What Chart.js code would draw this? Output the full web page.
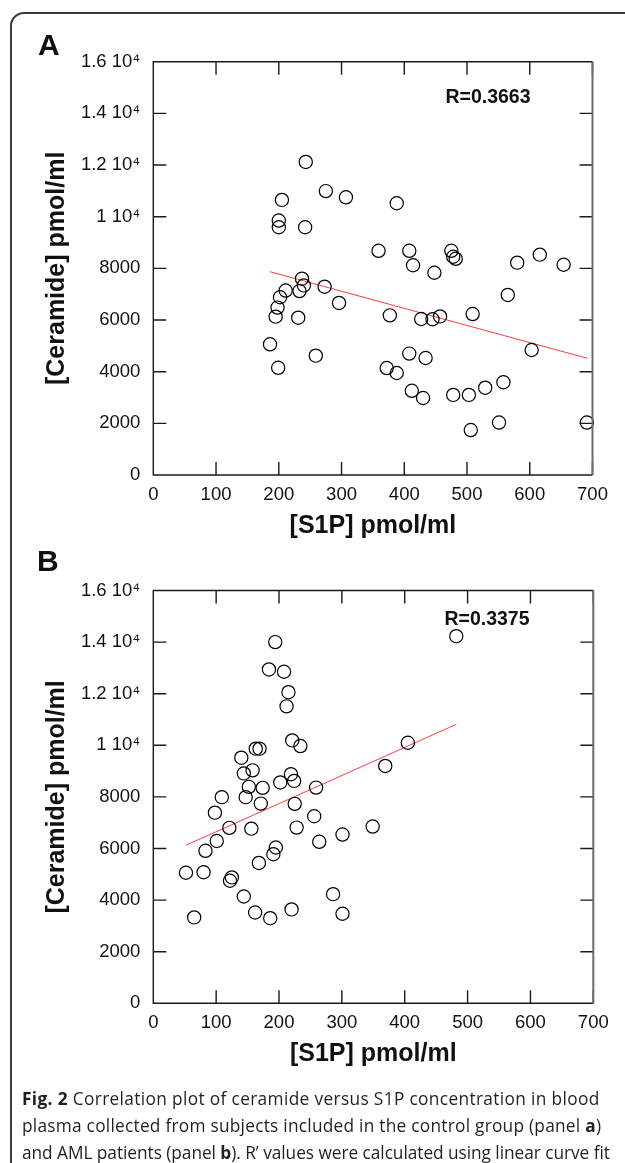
<!DOCTYPE html>
<html>
<head>
<meta charset="utf-8">
<script src="https://cdn.jsdelivr.net/npm/chart.js@4.4.1/dist/chart.umd.min.js"></script>
<style>
  html, body { margin:0; padding:0; background:#fff; }
  body { width:625px; height:1163px; position:relative; overflow:hidden; }
  #frame { position:absolute; left:10px; top:12px; width:700px; height:1200px; border:2px solid #3a3a3a; border-radius:14px; box-sizing:border-box; }
  canvas { position:absolute; left:0; }
  .lbl { position:absolute; font-family:"Liberation Sans", Arial, sans-serif; font-weight:bold; color:#111; white-space:nowrap; }
  .panel { font-size:30px; line-height:30px; }
  .rval { font-size:19.5px; line-height:19.5px; width:200px; text-align:center; }
  .cap { position:absolute; left:22px; font-family:"Open Sans", sans-serif; font-size:17.3px; line-height:27px; color:#231f20; white-space:nowrap; }
  .cap b { font-weight:700; }
</style>
</head>
<body>
<div id="frame"></div>
<canvas id="cA" width="625" height="560" style="top:0px"></canvas>
<canvas id="cB" width="625" height="560" style="top:530px"></canvas>
<div class="lbl panel" style="left:38px; top:30px;">A</div>
<div class="lbl panel" style="left:37px; top:546px;">B</div>
<div class="lbl rval" id="rA" style="left:388px; top:87px;">R=0.3663</div>
<div class="lbl rval" id="rB" style="left:387px; top:609px;">R=0.3375</div>
<div class="cap" style="top:1085px; letter-spacing:0.35px;"><b>Fig. 2</b> Correlation plot of ceramide versus S1P concentration in blood</div>
<div class="cap" style="top:1112px; letter-spacing:0.25px;">plasma collected from subjects included in the control group (panel <b>a</b>)</div>
<div class="cap" style="top:1139px; letter-spacing:-0.05px;">and AML patients (panel <b>b</b>). R’ values were calculated using linear curve fit</div>
<script>
// ---------- DATA ----------
// Panel A (control group): S1P (x) vs Ceramide (y), pmol/ml
const aS1P = [243, 275, 307, 205, 200, 200, 242, 359, 237, 240, 211, 233, 273, 202, 198, 195, 231, 296, 186, 259, 199,
              388, 408, 414, 475, 478, 482, 448, 580, 616, 654, 565, 377, 427, 445, 457, 509, 603, 408, 434, 372, 388,
              412, 430, 478, 503, 529, 558, 506, 551, 691];
const aCer = [12120, 10990, 10750, 10650, 9850, 9590, 9590, 8680, 7600, 7340, 7140, 7120, 7290, 6880, 6480, 6130, 6090, 6660, 5060, 4620, 4150,
              10520, 8680, 8120, 8680, 8450, 8370, 7830, 8220, 8530, 8140, 6970, 6180, 6040, 6030, 6140, 6230, 4840, 4700, 4530, 4140, 3950,
              3260, 2980, 3100, 3100, 3380, 3590, 1740, 2030, 2030];
const aFitX = [186, 692];
const aFitY = [7870, 4517];

// Panel B (AML patients)
const bS1P = [194, 184, 208, 215, 212, 221, 234, 163, 169, 140, 158, 144, 219, 224, 202, 152, 174, 259, 109, 147, 171, 225,
              98, 256, 121, 156, 228, 349, 301, 264, 101, 83, 195, 191, 168, 52, 80, 125, 122, 286, 144, 220, 162, 301,
              186, 65, 482, 405, 369];
const bCer = [14000, 12940, 12850, 12060, 11510, 10190, 9970, 9870, 9870, 9520, 9030, 8910, 8880, 8620, 8560, 8390, 8350, 8360, 7990, 7990, 7740, 7730,
              7390, 7250, 6800, 6770, 6810, 6850, 6540, 6260, 6290, 5910, 6040, 5780, 5440, 5060, 5080, 4880, 4750, 4230, 4140, 3640, 3520, 3470,
              3300, 3330, 14230, 10100, 9200];
const bFitX = [52, 482];
const bFitY = [6127, 10812];

// Axis ticks
const xTickValues = [0, 100, 200, 300, 400, 500, 600, 700];
const xTickLabels = ['0', '100', '200', '300', '400', '500', '600', '700'];
const yTickValues = [0, 2000, 4000, 6000, 8000, 10000, 12000, 14000, 16000];
const yTickLabels = ['0', '2000', '4000', '6000', '8000', '1 10⁴', '1.2 10⁴', '1.4 10⁴', '1.6 10⁴'];
const xTitle = '[S1P] pmol/ml';
const yTitle = '[Ceramide] pmol/ml';

// ---------- CHARTS ----------
const FONT = '"Liberation Sans", Arial, Helvetica, sans-serif';

const boxPlugin = {
  id: 'box',
  afterDraw(chart) {
    const ctx = chart.ctx;
    const {left, right, top, bottom} = chart.chartArea;
    const xs = chart.scales.x, ys = chart.scales.y;
    const TL = 13;
    ctx.save();
    ctx.strokeStyle = '#1a1a1a';
    ctx.lineWidth = 1.4;
    ctx.beginPath();
    ctx.moveTo(right, top); ctx.lineTo(left, top); ctx.lineTo(left, bottom); ctx.lineTo(right, bottom);
    xTickValues.forEach(v => {
      const p = xs.getPixelForValue(v);
      ctx.moveTo(p, bottom); ctx.lineTo(p, bottom - TL);
      ctx.moveTo(p, top); ctx.lineTo(p, top + TL);
    });
    yTickValues.forEach(v => {
      const p = ys.getPixelForValue(v);
      ctx.moveTo(left, p); ctx.lineTo(left + TL, p);
      ctx.moveTo(right, p); ctx.lineTo(right - TL, p);
    });
    ctx.stroke();
    ctx.strokeStyle = '#6a6a6a';
    ctx.lineWidth = 2;
    ctx.beginPath();
    ctx.moveTo(right, top); ctx.lineTo(right, bottom);
    ctx.stroke();
    ctx.restore();
  }
};

function makeChart(id, xsArr, ysArr, fx, fy, pad) {
  const pts = xsArr.map((x, i) => ({x: x, y: ysArr[i]}));
  const fit = fx.map((x, i) => ({x: x, y: fy[i]}));
  return new Chart(document.getElementById(id), {
    type: 'scatter',
    data: {
      datasets: [
        { data: fit, showLine: true, borderColor: '#ff3c3c', borderWidth: 1, pointRadius: 0, order: 2, clip: false },
        { data: pts, pointRadius: 6.6, pointBorderWidth: 1.2, pointBorderColor: '#000', pointBackgroundColor: 'rgba(0,0,0,0)',
          borderColor: '#000', backgroundColor: 'rgba(0,0,0,0)', order: 1, clip: false }
      ]
    },
    options: {
      responsive: false,
      animation: false,
      events: [],
      layout: { padding: pad, autoPadding: false },
      plugins: { legend: { display: false }, tooltip: { enabled: false } },
      scales: {
        x: {
          type: 'linear', position: 'bottom', min: 0, max: 700,
          grid: { display: false, drawTicks: false },
          border: { display: false },
          afterBuildTicks: s => { s.ticks = xTickValues.map(v => ({value: v})); },
          ticks: { padding: 9, color: '#111', font: { family: FONT, size: 18.5 }, maxRotation: 0, autoSkip: false,
                   callback: (v) => xTickLabels[xTickValues.indexOf(v)] },
          title: { display: true, text: xTitle, color: '#111', font: { family: FONT, size: 25, weight: 'bold' }, padding: { top: 4, bottom: 4 } },
          afterFit: s => { s.height = 70; }
        },
        y: {
          type: 'linear', position: 'left', min: 0, max: 16000,
          grid: { display: false, drawTicks: false },
          border: { display: false },
          afterBuildTicks: s => { s.ticks = yTickValues.map(v => ({value: v})); },
          ticks: { padding: 13, color: '#111', font: { family: FONT, size: 18.5 }, autoSkip: false,
                   callback: (v) => yTickLabels[yTickValues.indexOf(v)] },
          title: { display: true, text: yTitle, color: '#111', font: { family: FONT, size: 25, weight: 'bold' }, padding: { top: 4, bottom: 4 } },
          afterFit: s => { s.width = 115.3; }
        }
      }
    },
    plugins: [boxPlugin]
  });
}

makeChart('cA', aS1P, aCer, aFitX, aFitY, { left: 38, right: 32.5, top: 61.7, bottom: 15 });
makeChart('cB', bS1P, bCer, bFitX, bFitY, { left: 38, right: 31.7, top: 60.5, bottom: 16.7 });
</script>
</body>
</html>
